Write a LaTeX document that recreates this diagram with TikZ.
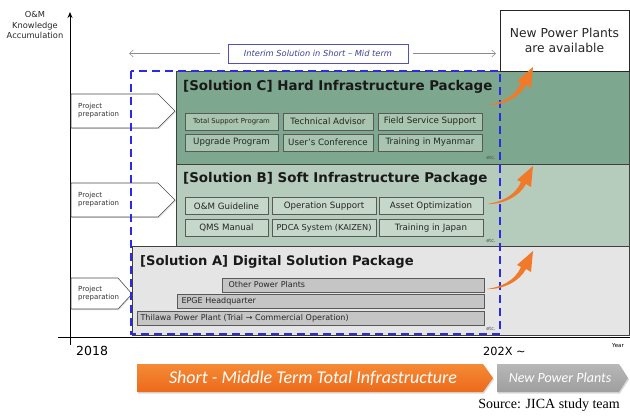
\documentclass[tikz,border=0pt]{standalone}
\usepackage{fontspec}
\setmainfont{DejaVu Sans}
\newfontfamily\srcfont{Liberation Serif}
\newfontfamily\calfont{Carlito}
\usetikzlibrary{arrows.meta,shapes.geometric,shadows}
\definecolor{panC}{HTML}{7DA78E}
\definecolor{itmC}{HTML}{A7C5AF}
\definecolor{panB}{HTML}{B5CBBB}
\definecolor{itmB}{HTML}{C6D8CA}
\definecolor{panA}{HTML}{E4E5E4}
\definecolor{itmA}{HTML}{C4C5C4}
\definecolor{dashblue}{HTML}{2B2BE6}
\definecolor{orangeA}{HTML}{F58A35}
\definecolor{orangeB}{HTML}{EC6A1C}
\definecolor{arrowor}{HTML}{F07A2A}
\definecolor{interimc}{HTML}{5050C0}
\tikzset{
  itembox/.style={draw=black!65, line width=0.8pt, inner sep=0pt, font=\fontsize{8.7}{9}\selectfont, text=black!85},
  itemC/.style={itembox, fill=itmC, minimum height=17pt},
  itemB/.style={itembox, fill=itmB, minimum height=17pt},
  itemA/.style={itembox, fill=itmA, minimum height=14pt, anchor=east, font=\fontsize{8}{9}\selectfont},
  titlefont/.style={font=\bfseries\fontsize{13.4}{15}\selectfont, anchor=west, text=black!90, inner sep=0pt},
  etcfont/.style={font=\fontsize{5}{5}\selectfont, text=black!70, inner sep=0pt},
  prepfont/.style={font=\fontsize{7}{8}\selectfont, align=left, anchor=west, text=black!80, inner sep=0pt},
  prepshape/.style={draw=black!70, fill=white, line width=0.6pt, drop shadow={shadow xshift=1pt, shadow yshift=-1pt, opacity=0.25}},
  orangearrow/.pic={
    \fill[arrowor] (0,0) .. controls (14,-2) and (28,-8) .. (34,-22)
      -- (30,-24) -- (46,-38) -- (44,-17) -- (39,-20)
      .. controls (32,-7) and (16,0.5) .. (0,0) -- cycle;
  },
  thinarrow/.style={draw=black!45, line width=0.5pt, -{Straight Barb[length=4pt,width=7pt]}},
}
\begin{document}
\begin{tikzpicture}[x=1pt,y=-1pt]
\useasboundingbox (0,0) rectangle (630,417);
% panels
\fill[panC] (176,71) rectangle (629,164);
\fill[panB] (176,164) rectangle (629,246);
\fill[panA] (132,246) rectangle (629,335);
\draw[black!75, line width=0.8pt] (176,71) rectangle (629,164);
\draw[black!75, line width=0.8pt] (176,164) rectangle (629,246);
\draw[black!75, line width=0.8pt] (132,246) rectangle (629,335);
% new power plants box
\node[draw=black!85, line width=0.8pt, fill=white, minimum width=129pt, minimum height=61pt, inner sep=0pt, align=center, font=\fontsize{12.3}{14.5}\selectfont, text=black!85] (npp) at (564.5,40.5) {New Power Plants\\are available};
% axes
\draw[line width=1pt, -{Stealth[length=6pt,width=5pt]}] (70,345) -- (70,12);
\draw[line width=1pt] (58,337) -- (630,337);
\node[font=\fontsize{8.3}{10.5}\selectfont, align=center, text=black!85] (ylab) at (35,25) {O\&M\\Knowledge\\Accumulation};
\node[font=\fontsize{12.5}{14}\selectfont, anchor=west, inner sep=0pt] (y2018) at (76,351) {2018};
\node[font=\fontsize{11.3}{13}\selectfont, anchor=west, inner sep=0pt] (y202x) at (483,351) {202X \char"007E};
\node[font=\fontsize{5.5}{6}\selectfont, anchor=west, inner sep=0pt] (year) at (612,346) {Year};
% project preparation pentagons
\draw[prepshape] (71,94) -- (158,94) -- (175,111) -- (158,128) -- (71,128) -- cycle;
\node[prepfont] (ppC) at (78,111) {Project\\preparation};
\draw[prepshape] (71,183) -- (158,183) -- (175,200) -- (158,217) -- (71,217) -- cycle;
\node[prepfont] (ppB) at (78,200) {Project\\preparation};
\draw[prepshape] (71,278) -- (118,278) -- (132,294) -- (118,309) -- (71,309) -- cycle;
\node[prepfont] (ppA) at (78,294) {Project\\preparation};
% Solution C
\node[titlefont] (tC) at (183,87) {[Solution C] Hard Infrastructure Package};
\node[itemC, minimum width=93pt, font=\fontsize{6.9}{7}\selectfont] (c1) at (231.5,121.5) {Total Support Program};
\node[itemC, minimum width=90pt] (c2) at (328,121.5) {Technical Advisor};
\node[itemC, minimum width=104pt] (c3) at (430,121.5) {Field Service Support};
\node[itemC, minimum width=93pt] (c4) at (231.5,142.5) {Upgrade Program};
\node[itemC, minimum width=90pt] (c5) at (328,142.5) {User's Conference};
\node[itemC, minimum width=104pt] (c6) at (430,142.5) {Training in Myanmar};
\node[etcfont] (etcC) at (491,158) {etc.};
% Solution B
\node[titlefont] (tB) at (183,179) {[Solution B] Soft Infrastructure Package};
\node[itemB, minimum width=83pt] (b1) at (226.5,206) {O\&M Guideline};
\node[itemB, minimum width=104pt] (b2) at (324,206) {Operation Support};
\node[itemB, minimum width=104pt] (b3) at (431,206) {Asset Optimization};
\node[itemB, minimum width=83pt] (b4) at (226.5,228) {QMS Manual};
\node[itemB, minimum width=104pt, font=\fontsize{8.2}{9}\selectfont] (b5) at (324,228) {PDCA System (KAIZEN)};
\node[itemB, minimum width=104pt] (b6) at (431,228) {Training in Japan};
\node[etcfont] (etcB) at (491,241) {etc.};
% Solution A
\node[titlefont, font=\bfseries\fontsize{13.1}{15}\selectfont] (tA) at (140,262) {[Solution A] Digital Solution Package};
\node[itemA, minimum width=262pt, text width=250pt, align=left] (a1) at (485,285) {Other Power Plants};
\node[itemA, minimum width=307pt, text width=299pt, align=left] (a2) at (485,301.5) {EPGE Headquarter};
\node[itemA, minimum width=347pt, text width=341pt, align=left] (a3) at (485,318.5) {Thilawa Power Plant (Trial → Commercial Operation)};
\node[etcfont] (etcA) at (491,329) {etc.};
% dashed blue frame
\draw[dashblue, line width=2.2pt, dash pattern=on 8pt off 5pt] (131,71) rectangle (500,334);
% interim
\node[draw=interimc, line width=0.8pt, fill=white, minimum width=180pt, minimum height=19pt, inner sep=0pt, font=\itshape\fontsize{8.3}{9}\selectfont, text=interimc!80!black] (interim) at (318,53.5) {Interim Solution in Short – Mid term};
\coordinate (intL) at (129,53.5);
\coordinate (intR) at (496,53.5);
\draw[thinarrow] ([xshift=-8pt]interim.west) -- (intL);
\draw[thinarrow] ([xshift=5pt]interim.east) -- (intR);
% orange arrows
\pic at (487,105) {orangearrow};
\pic at (487,204) {orangearrow};
\pic at (487,289) {orangearrow};
% bottom banners
\shade[top color=orangeA, bottom color=orangeB, drop shadow={shadow xshift=1pt, shadow yshift=-1.5pt, opacity=0.3}] (137,364) -- (483,364) -- (493,378) -- (483,392) -- (137,392) -- cycle;
\node[font=\calfont\itshape\fontsize{18}{20}\selectfont, text=white, inner sep=0pt] (bannerO) at (313,378) {Short - Middle Term Total Infrastructure};
\shade[top color=black!28, bottom color=black!38, drop shadow={shadow xshift=1pt, shadow yshift=-1.5pt, opacity=0.3}] (497,364) -- (619,364) -- (628,378) -- (619,392) -- (497,392) -- cycle;
\node[font=\calfont\itshape\fontsize{14}{16}\selectfont, text=white, inner sep=0pt] (bannerG) at (560,378) {New Power Plants};
% source
\node[font=\srcfont\fontsize{14}{16}\selectfont, anchor=east, inner sep=0pt] (src) at (620,405) {Source: JICA study team};
\end{tikzpicture}
\end{document}
